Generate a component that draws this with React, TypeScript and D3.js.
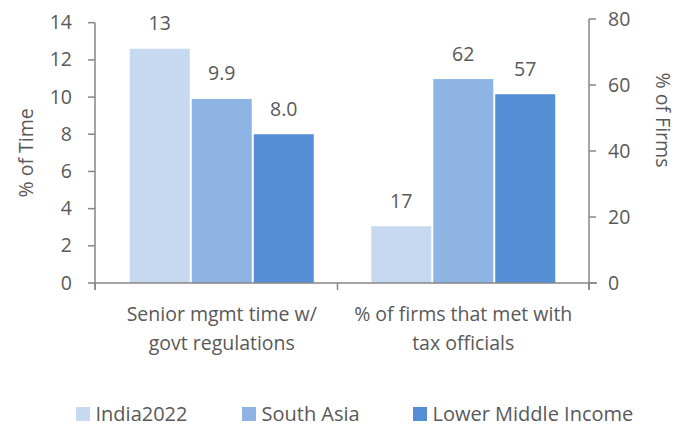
import React from "react";
import * as d3 from "d3";

const categories = ["Senior mgmt time w/|govt regulations", "% of firms that met with|tax officials"];
const seriesNames = ["India2022", "South Asia", "Lower Middle Income"];
const colors = ["#C6D9F1", "#8DB4E2", "#558ED5"];
// group 1 on left axis (% of time), group 2 on right axis (% of firms)
const timeValues = [12.6, 9.9, 8.0];
const timeLabels = ["13", "9.9", "8.0"];
const firmValues = [17.2, 61.8, 57.2];
const firmLabels = ["17", "62", "57"];
const leftTicks = [0, 2, 4, 6, 8, 10, 12, 14];
const rightTicks = [0, 20, 40, 60, 80];

const W = 683, H = 426;
const FONT = "'Open Sans', sans-serif";
const TXT = "#595959";
const AX = "#868686";
const FS = 19.5;

export default function App() {
  const x0 = 95, x1 = 589, yBase = 283;
  const yL = d3.scaleLinear().domain([0, 14]).range([yBase, 22.7]);
  const yR = d3.scaleLinear().domain([0, 80]).range([yBase, 19]);
  const band = d3.scaleBand().domain(categories).range([101, 584]);
  const barW = 60, gap = 2;
  const groups = [
    { vals: timeValues, labels: timeLabels, y: yL },
    { vals: firmValues, labels: firmLabels, y: yR },
  ];
  const tickXs = [x0, (band(categories[1]) as number) - 5, x1];
  const legendX = [76, 242, 413];
  return (
    <svg width={W} height={H} style={{ position: "absolute", left: 0, top: 0 }} fontFamily={FONT}>
      <rect width={W} height={H} fill="#fff" />
      {groups.map((g, gi) => {
        const cx = (band(categories[gi]) as number) + band.bandwidth() / 2;
        const total = 3 * barW + 2 * gap;
        return (
          <g key={gi}>
            {g.vals.map((v, i) => {
              const bx = cx - total / 2 + i * (barW + gap);
              const top = g.y(v);
              return (
                <g key={i}>
                  <rect x={bx} y={top} width={barW} height={yBase - top} fill={colors[i]} />
                  <text x={bx + barW / 2} y={top - 18.5} textAnchor="middle" fontSize={FS} fill={TXT}>
                    {g.labels[i]}
                  </text>
                </g>
              );
            })}
            {categories[gi].split("|").map((line, li) => (
              <text key={li} x={cx} y={321 + li * 29} textAnchor="middle" fontSize={FS} fill={TXT}>
                {line}
              </text>
            ))}
          </g>
        );
      })}
      {/* x axis */}
      <line x1={x0} x2={x1 + 8} y1={yBase} y2={yBase} stroke={AX} strokeWidth={1.5} />
      {tickXs.map((t, i) => (
        <line key={i} x1={t} x2={t} y1={yBase} y2={yBase + 7} stroke={AX} strokeWidth={1.5} />
      ))}
      {/* left axis */}
      <line x1={x0} x2={x0} y1={yL(14)} y2={yBase + 7} stroke={AX} strokeWidth={1.5} />
      {leftTicks.map((t) => (
        <g key={t}>
          <line x1={x0 - 7} x2={x0} y1={yL(t)} y2={yL(t)} stroke={AX} strokeWidth={1.5} />
          <text x={x0 - 23} y={yL(t) + 6.5} textAnchor="end" fontSize={FS} fill={TXT}>{t}</text>
        </g>
      ))}
      {/* right axis */}
      <line x1={x1} x2={x1} y1={yR(80)} y2={yBase + 7} stroke={AX} strokeWidth={1.5} />
      {rightTicks.map((t) => (
        <g key={t}>
          <line x1={x1} x2={x1 + 7} y1={yR(t)} y2={yR(t)} stroke={AX} strokeWidth={1.5} />
          <text x={x1 + 19} y={yR(t) + 6.5} textAnchor="start" fontSize={FS} fill={TXT}>{t}</text>
        </g>
      ))}
      <text transform={`translate(33,${(yL(14) + yBase) / 2}) rotate(-90)`} textAnchor="middle" fontSize={FS} fill={TXT}>% of Time</text>
      <text transform={`translate(656,${(yR(80) + yBase) / 2 - 31}) rotate(90)`} textAnchor="middle" fontSize={FS} fill={TXT}>% of Firms</text>
      {/* legend */}
      {seriesNames.map((s, i) => {
        const lx = legendX[i];
        return (
          <g key={s}>
            <rect x={lx} y={407} width={14} height={14} fill={colors[i]} />
            <text x={lx + 19.5} y={420.5} fontSize={FS + 0.5} fill={TXT}>{s}</text>
          </g>
        );
      })}
    </svg>
  );
}
